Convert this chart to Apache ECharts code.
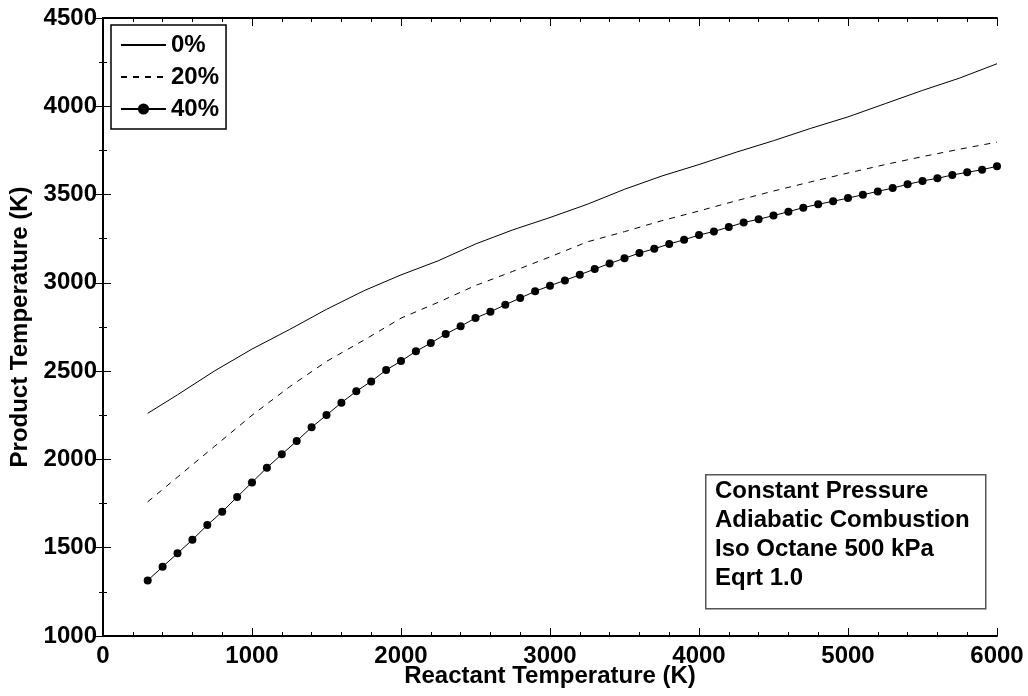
<!DOCTYPE html>
<html>
<head>
<meta charset="utf-8">
<script src="https://cdn.jsdelivr.net/npm/echarts@6/dist/echarts.min.js"></script>
<style>
  html, body { margin: 0; padding: 0; background: #fff; }
  #chart { width: 1028px; height: 696px; }
</style>
</head>
<body>
<div id="chart"></div>
<script>
// reactant temperature (K) for each curve
const xLines = [300, 500, 750, 1000, 1250, 1500, 1750, 2000, 2250, 2500, 2750, 3000,
  3250, 3500, 3750, 4000, 4250, 4500, 4750, 5000, 5250, 5500, 5750, 6000];
const pct0 = [2261, 2366, 2502, 2625, 2735, 2850, 2955, 3045, 3125, 3220, 3300, 3370,
  3445, 3530, 3605, 3670, 3740, 3805, 3875, 3940, 4015, 4090, 4160, 4241];
const pct20 = [1760, 1900, 2075, 2250, 2410, 2555, 2675, 2800, 2890, 2985, 3065, 3147,
  3232, 3290, 3352, 3407, 3465, 3520, 3572, 3622, 3670, 3715, 3757, 3797];
const xMarked = [300, 400, 500, 600, 700, 800, 900, 1000, 1100, 1200, 1300, 1400, 1500,
  1600, 1700, 1800, 1900, 2000, 2100, 2200, 2300, 2400, 2500, 2600, 2700, 2800, 2900,
  3000, 3100, 3200, 3300, 3400, 3500, 3600, 3700, 3800, 3900, 4000, 4100, 4200, 4300,
  4400, 4500, 4600, 4700, 4800, 4900, 5000, 5100, 5200, 5300, 5400, 5500, 5600, 5700,
  5800, 5900, 6000];
const pct40 = [1315, 1392, 1468, 1545, 1628, 1704, 1787, 1870, 1953, 2029, 2104, 2182, 2251,
  2321, 2386, 2442, 2506, 2557, 2612, 2659, 2710, 2754, 2801, 2836, 2876, 2914, 2952,
  2984, 3014, 3046, 3078, 3110, 3139, 3169, 3193, 3220, 3244, 3271, 3291, 3316, 3342,
  3360, 3381, 3403, 3426, 3445, 3462, 3480, 3499, 3518, 3537, 3558, 3577, 3592, 3611,
  3626, 3641, 3660];
const names = ['0%', '20%', '40%'];
const noteLines = ['Constant Pressure', 'Adiabatic Combustion', 'Iso Octane 500 kPa', 'Eqrt 1.0'];

const font = 'Liberation Sans, Arial, sans-serif';
const pairs = (xs, ys) => xs.map((x, i) => [x, ys[i]]);
const plain = v => String(v);

const chart = echarts.init(document.getElementById('chart'));

function axisBase(extra) {
  return Object.assign({
    type: 'value',
    axisLine: { show: true, lineStyle: { color: '#000', width: 2 } },
    axisTick: { show: true, inside: true, length: 8, lineStyle: { color: '#000', width: 1 } },
    splitLine: { show: false }
  }, extra);
}

const labelStyle = { color: '#000', fontFamily: font, fontWeight: 'bold', fontSize: 24, formatter: plain };
const nameStyle = { color: '#000', fontFamily: font, fontWeight: 'bold', fontSize: 24 };

chart.setOption({
  animation: false,
  backgroundColor: '#fff',
  grid: { left: 103, right: 31, top: 18, bottom: 60, containLabel: false, outerBoundsMode: 'none' },
  xAxis: [
    axisBase({
      min: 0, max: 6000, interval: 1000,
      minorTick: { show: true, splitNumber: 5, length: 4, lineStyle: { color: '#000' } },
      axisLabel: Object.assign({ margin: 8 }, labelStyle),
      name: 'Reactant Temperature (K)', nameLocation: 'middle', nameGap: 28,
      nameMoveOverlap: false,
      nameTextStyle: nameStyle
    }),
    axisBase({
      position: 'top', min: 0, max: 6000, interval: 1000,
      minorTick: { show: true, splitNumber: 5, length: 4, lineStyle: { color: '#000' } },
      axisLabel: { show: false }
    })
  ],
  yAxis: [
    axisBase({
      min: 1000, max: 4500, interval: 500,
      minorTick: { show: true, splitNumber: 2, length: 4, lineStyle: { color: '#000' } },
      axisLabel: Object.assign({ margin: 6 }, labelStyle),
      name: 'Product Temperature (K)', nameLocation: 'middle', nameGap: 71,
      nameMoveOverlap: false,
      nameTextStyle: nameStyle
    }),
    axisBase({
      position: 'right', min: 1000, max: 4500, interval: 500,
      minorTick: { show: true, splitNumber: 2, length: 4, lineStyle: { color: '#000' } },
      axisLabel: { show: false }
    })
  ],
  legend: {
    left: 111, top: 25, orient: 'vertical',
    padding: [8, 7, 8, 9],
    itemGap: 8, itemWidth: 45, itemHeight: 14,
    borderColor: '#000', borderWidth: 1.5,
    backgroundColor: '#fff',
    textStyle: { color: '#000', fontFamily: font, fontWeight: 'bold', fontSize: 24 },
    data: [
      { name: names[0], itemStyle: { opacity: 0 } },
      { name: names[1], itemStyle: { opacity: 0 } },
      { name: names[2] }
    ]
  },
  series: [
    {
      name: names[0], type: 'line',
      data: pairs(xLines, pct0), symbol: 'none',
      lineStyle: { color: '#000', width: 1 }, itemStyle: { color: '#000' }
    },
    {
      name: names[1], type: 'line',
      data: pairs(xLines, pct20), symbol: 'none',
      lineStyle: { color: '#000', width: 1, type: [6, 6] }, itemStyle: { color: '#000' }
    },
    {
      name: names[2], type: 'line',
      data: pairs(xMarked, pct40), symbol: 'circle', symbolSize: 8, showSymbol: true,
      lineStyle: { color: '#000', width: 1 }, itemStyle: { color: '#000' }
    }
  ],
  graphic: [
    {
      type: 'rect', left: 705, top: 474,
      shape: { width: 280, height: 134 },
      style: { fill: '#fff', stroke: '#555', lineWidth: 1.5 },
      z: 10
    },
    {
      type: 'text', left: 715, top: 477,
      style: {
        text: noteLines.join('\n'), fill: '#000',
        font: 'bold 24px ' + font, lineHeight: 29
      },
      z: 11
    }
  ]
});
</script>
</body>
</html>
